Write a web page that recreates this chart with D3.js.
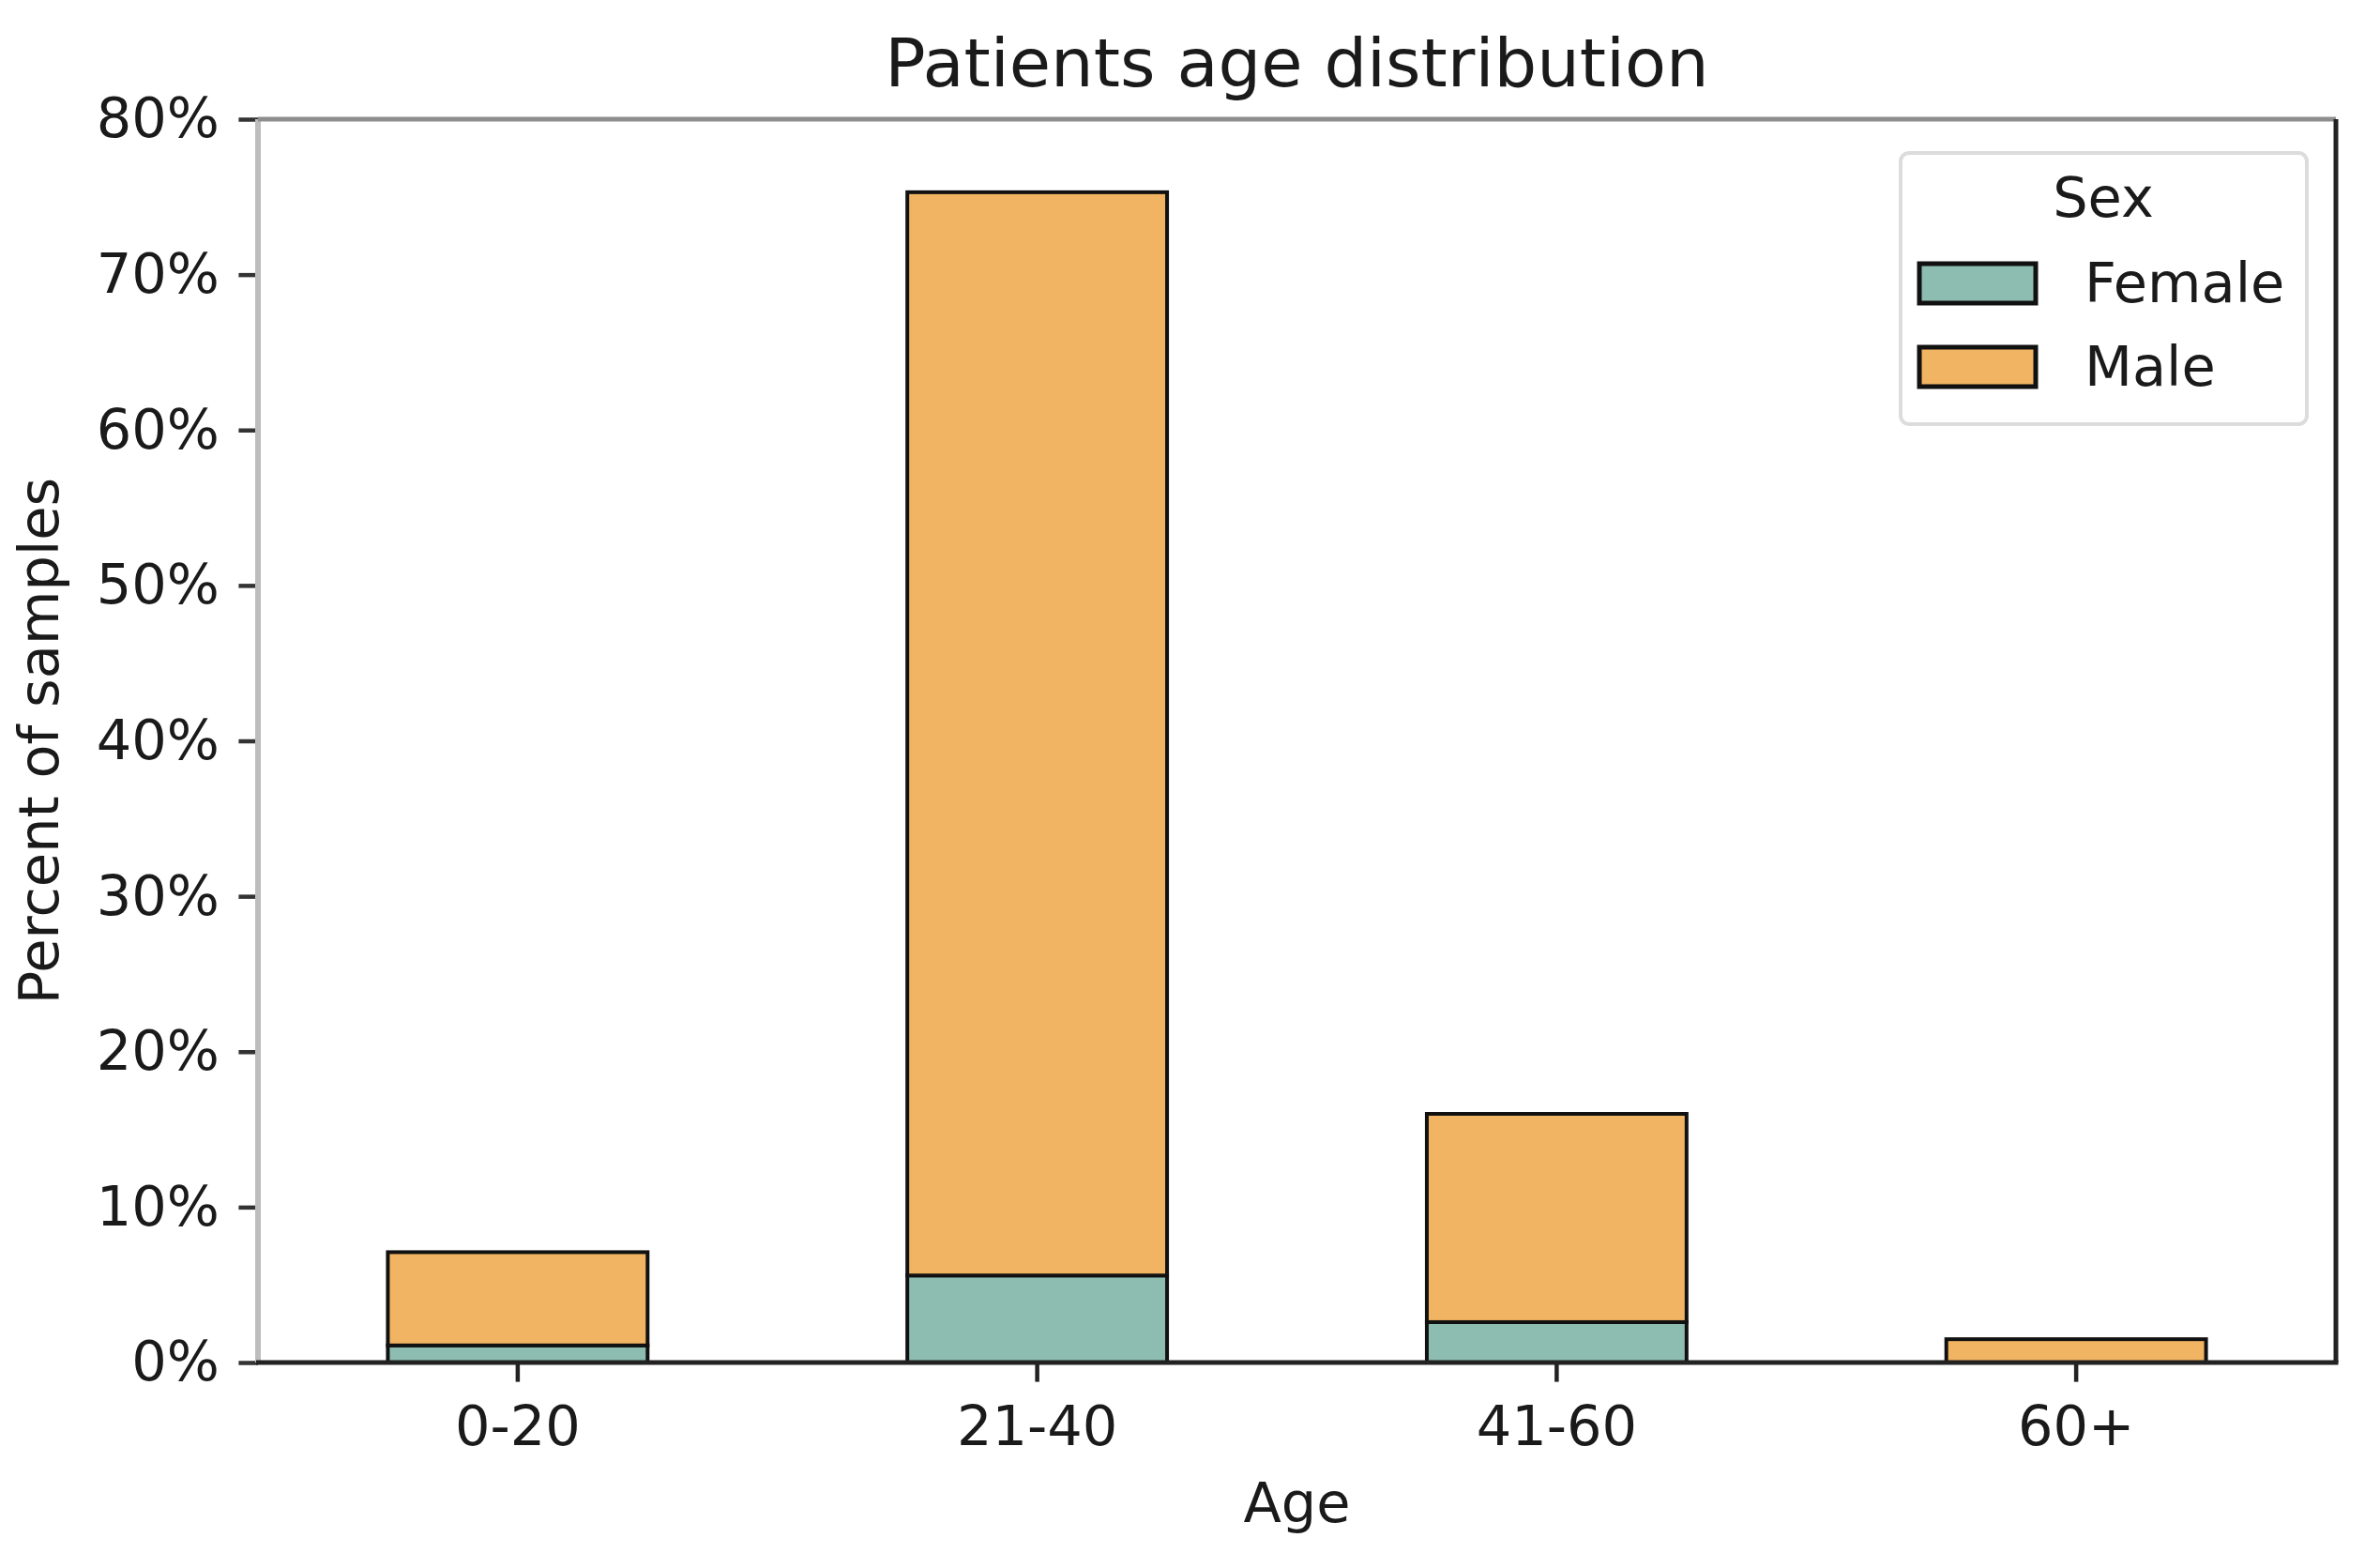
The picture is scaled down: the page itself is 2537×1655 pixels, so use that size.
<!DOCTYPE html>
<html>
<head>
<meta charset="utf-8">
<script src="https://cdn.jsdelivr.net/npm/d3@7"></script>
<style>
  body { margin: 0; background: #fff; }
  text { font-family: "DejaVu Sans", sans-serif; fill: #1a1a1a; }
</style>
</head>
<body>
<div id="chart"></div>
<script>
// data (percent of samples)
const ageGroups = ["0-20", "21-40", "41-60", "60+"];
const sexes = ["Female", "Male"];
const femalePct = [1.1, 5.6, 2.6, 0];
const malePct = [6.0, 69.7, 13.4, 1.5];
const yTicks = [0, 10, 20, 30, 40, 50, 60, 70, 80];
const sexColors = ["#8dbdb0", "#f0b462"];

const W = 2537, H = 1655;
const margin = { top: 127, right: 47, bottom: 203, left: 275 };
const innerW = W - margin.left - margin.right;
const innerH = H - margin.top - margin.bottom;

const rows = ageGroups.map((g, i) => ({ group: g, Female: femalePct[i], Male: malePct[i] }));

const svg = d3.select("#chart").append("svg")
  .attr("width", W)
  .attr("height", H);

const g = svg.append("g")
  .attr("transform", `translate(${margin.left}, ${margin.top})`);

const x = d3.scaleBand()
  .domain(ageGroups)
  .range([0, innerW])
  .paddingInner(0.5)
  .paddingOuter(0.25);

const y = d3.scaleLinear()
  .domain([0, 80])
  .range([innerH, 0]);

const color = d3.scaleOrdinal().domain(sexes).range(sexColors);

const series = d3.stack().keys(sexes)(rows);

// Bars
g.selectAll("g.layer")
  .data(series)
  .join("g")
  .attr("class", "layer")
  .attr("fill", (d) => color(d.key))
  .selectAll("rect")
  .data((d) => d.filter((s) => s[1] - s[0] > 0))
  .join("rect")
  .attr("x", (d) => x(d.data.group))
  .attr("y", (d) => y(d[1]))
  .attr("width", x.bandwidth())
  .attr("height", (d) => y(d[0]) - y(d[1]))
  .attr("stroke", "#111")
  .attr("stroke-width", 4);

// Y axis
const yAxis = g.append("g")
  .call(d3.axisLeft(y).tickValues(yTicks).tickFormat((d) => d + "%").tickSize(20.6).tickPadding(20.6));
yAxis.select(".domain").remove();
yAxis.selectAll(".tick line").attr("stroke", "#333").attr("stroke-width", 4.5);
yAxis.selectAll("text").style("font-size", "59px").attr("fill", "#1a1a1a");

// X axis
const xAxis = g.append("g")
  .attr("transform", `translate(0, ${innerH})`)
  .call(d3.axisBottom(x).tickSize(20.6).tickPadding(26));
xAxis.select(".domain").remove();
xAxis.selectAll(".tick line").attr("stroke", "#222").attr("stroke-width", 4.5);
xAxis.selectAll("text").style("font-size", "59px").attr("fill", "#1a1a1a");

// Spines
g.append("line").attr("x1", 0).attr("x2", 0).attr("y1", 0).attr("y2", innerH)
  .attr("stroke", "#bdbdbd").attr("stroke-width", 6);
g.append("line").attr("x1", 0).attr("x2", innerW).attr("y1", 0).attr("y2", 0)
  .attr("stroke", "#8e8e8e").attr("stroke-width", 5);
g.append("line").attr("x1", innerW).attr("x2", innerW).attr("y1", 0).attr("y2", innerH)
  .attr("stroke", "#222").attr("stroke-width", 5);
g.append("line").attr("x1", -2).attr("x2", innerW + 2.5).attr("y1", innerH).attr("y2", innerH)
  .attr("stroke", "#222").attr("stroke-width", 5);

// Title and axis labels
svg.append("text")
  .attr("x", margin.left + innerW / 2)
  .attr("y", 92)
  .attr("text-anchor", "middle")
  .style("font-size", "72px")
  .text("Patients age distribution");

svg.append("text")
  .attr("x", margin.left + innerW / 2)
  .attr("y", 1622)
  .attr("text-anchor", "middle")
  .style("font-size", "59px")
  .text("Age");

svg.append("text")
  .attr("transform", `translate(62, ${margin.top + innerH / 2}) rotate(-90)`)
  .attr("text-anchor", "middle")
  .style("font-size", "59px")
  .text("Percent of samples");

// Legend
const legend = svg.append("g").attr("transform", "translate(2026, 163)");
legend.append("rect")
  .attr("width", 433)
  .attr("height", 289)
  .attr("rx", 9)
  .attr("fill", "#fff")
  .attr("fill-opacity", 0.8)
  .attr("stroke", "#dcdcdc")
  .attr("stroke-width", 4);
legend.append("text")
  .attr("x", 216)
  .attr("y", 68)
  .attr("text-anchor", "middle")
  .style("font-size", "59px")
  .text("Sex");

const items = legend.selectAll("g.item")
  .data(sexes)
  .join("g")
  .attr("class", "item")
  .attr("transform", (d, i) => `translate(20, ${118 + i * 89})`);
items.append("rect")
  .attr("width", 124)
  .attr("height", 42)
  .attr("fill", (d) => color(d))
  .attr("stroke", "#111")
  .attr("stroke-width", 5);
items.append("text")
  .attr("x", 176)
  .attr("y", 41)
  .style("font-size", "59px")
  .text((d) => d);
</script>
</body>
</html>
